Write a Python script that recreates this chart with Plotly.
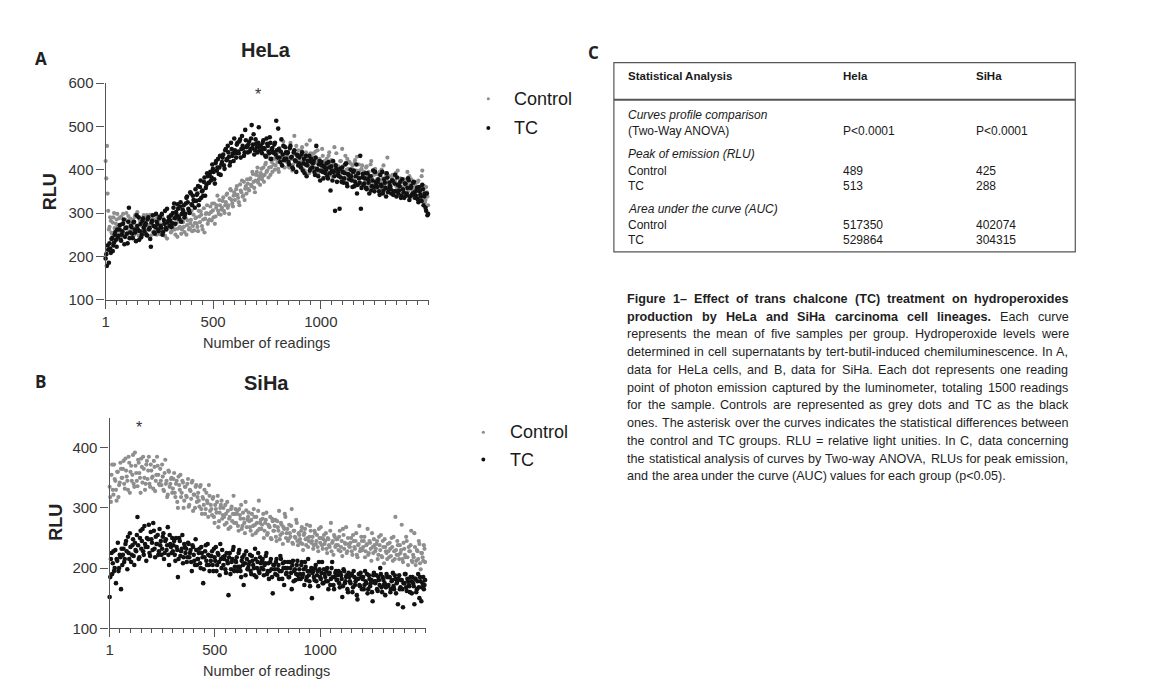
import plotly.graph_objects as go

# ---------------- data ----------------
# reading indices (two interleaved sets of readings)
readings_a = list(range(1, 1501, 6))
readings_b = list(range(4, 1501, 6))

hela_control_a = [
    420, 455, 305, 268, 282, 252, 290, 265, 275, 298,
    270, 258, 292, 246, 281, 266, 300, 255, 278, 287,
    262, 284, 249, 296, 271, 258, 289, 243, 276, 268,
    281, 253, 295, 264, 272, 248, 286, 270, 259, 293,
    266, 282, 251, 274, 290, 260, 247, 279, 268, 285,
    271, 258, 292, 276, 250, 286, 264, 281, 296, 262,
    279, 256, 288, 272, 301, 265, 284, 258, 296, 277,
    290, 268, 305, 279, 296, 262, 311, 287, 300, 275,
    298, 315, 283, 306, 322, 292, 318, 305, 330, 296,
    312, 336, 300, 325, 345, 318, 334, 352, 322, 340,
    330, 355, 342, 325, 366, 348, 338, 372, 356, 345,
    368, 352, 380, 362, 390, 358, 375, 395, 370, 385,
    392, 378, 405, 388, 416, 398, 382, 425, 406, 395,
    412, 400, 430, 418, 395, 442, 420, 408, 455, 426,
    418, 440, 405, 462, 428, 412, 478, 435, 420, 445,
    430, 410, 452, 422, 398, 440, 425, 412, 468, 432,
    415, 438, 402, 425, 445, 395, 420, 408, 432, 410,
    398, 425, 412, 440, 390, 418, 402, 452, 410, 395,
    408, 385, 420, 448, 396, 412, 380, 425, 402, 415,
    390, 410, 375, 422, 398, 385, 412, 370, 402, 388,
    395, 372, 408, 385, 360, 412, 380, 398, 365, 390,
    378, 360, 395, 372, 352, 410, 368, 385, 428, 362,
    370, 355, 388, 348, 375, 362, 398, 352, 380, 340,
    358, 378, 342, 365, 350, 385, 338, 372, 355, 345,
    362, 340, 375, 352, 330, 398, 345, 325, 360, 338,
]
hela_control_b = [
    380, 345, 262, 290, 255, 278, 300, 247, 285, 270,
    288, 262, 275, 298, 252, 284, 268, 293, 258, 276,
    279, 255, 291, 266, 302, 248, 283, 271, 259, 295,
    262, 289, 272, 245, 296, 278, 256, 284, 267, 250,
    288, 270, 256, 295, 262, 281, 274, 241, 292, 266,
    255, 288, 270, 262, 299, 245, 280, 268, 252, 284,
    268, 292, 250, 283, 262, 276, 305, 270, 260, 288,
    276, 258, 292, 304, 270, 285, 255, 298, 318, 282,
    285, 302, 322, 290, 275, 312, 340, 298, 318, 308,
    328, 305, 318, 342, 312, 298, 355, 330, 315, 348,
    342, 362, 335, 318, 352, 375, 340, 330, 362, 378,
    355, 378, 365, 395, 372, 348, 388, 405, 378, 365,
    402, 385, 372, 412, 395, 430, 405, 388, 418, 440,
    425, 410, 438, 402, 450, 415, 428, 465, 405, 435,
    432, 410, 448, 425, 398, 440, 418, 455, 430, 412,
    418, 445, 402, 430, 415, 458, 425, 392, 438, 408,
    428, 405, 442, 415, 390, 425, 412, 448, 400, 420,
    410, 395, 432, 405, 422, 385, 415, 400, 438, 392,
    398, 420, 392, 408, 375, 432, 400, 390, 418, 385,
    402, 378, 415, 392, 430, 382, 398, 365, 410, 395,
    382, 405, 368, 395, 378, 420, 372, 388, 402, 358,
    390, 372, 358, 400, 380, 365, 392, 375, 350, 385,
    362, 382, 345, 372, 392, 355, 368, 340, 378, 360,
    372, 348, 362, 395, 340, 365, 378, 352, 335, 368,
    350, 372, 335, 358, 385, 340, 362, 330, 348, 318,
]

hela_tc_a = [
    195, 178, 215, 230, 208, 242, 225, 250, 238, 262,
    248, 272, 236, 258, 285, 245, 266, 230, 312, 255,
    268, 242, 280, 255, 295, 262, 238, 275, 250, 288,
    258, 276, 248, 290, 265, 222, 282, 270, 252, 298,
    275, 258, 292, 266, 250, 284, 305, 262, 278, 290,
    282, 268, 300, 322, 275, 295, 310, 286, 325, 298,
    305, 290, 322, 338, 310, 300, 345, 318, 330, 312,
    328, 345, 318, 360, 335, 352, 372, 340, 365, 385,
    370, 395, 382, 402, 378, 415, 398, 425, 405, 388,
    418, 435, 402, 448, 425, 440, 410, 462, 432, 420,
    445, 428, 462, 438, 470, 448, 455, 432, 492, 452,
    440, 465, 448, 503, 458, 435, 470, 452, 462, 445,
    455, 438, 468, 448, 430, 460, 442, 475, 425, 450,
    440, 462, 513, 428, 448, 418, 470, 435, 422, 452,
    425, 440, 412, 455, 430, 402, 445, 420, 435, 410,
    428, 405, 440, 415, 392, 432, 410, 420, 398, 425,
    405, 420, 388, 455, 400, 412, 375, 418, 395, 408,
    392, 415, 380, 405, 352, 398, 420, 385, 410, 372,
    395, 310, 382, 405, 370, 392, 415, 362, 388, 378,
    385, 360, 398, 372, 412, 365, 380, 432, 358, 390,
    368, 392, 355, 378, 345, 385, 362, 398, 350, 372,
    360, 378, 342, 365, 395, 352, 370, 338, 382, 355,
    362, 345, 375, 350, 388, 338, 365, 352, 372, 340,
    355, 335, 368, 345, 380, 330, 358, 342, 370, 348,
    340, 358, 325, 350, 338, 365, 318, 345, 305, 295,
]
hela_tc_b = [
    205, 225, 185, 218, 240, 212, 232, 256, 222, 245,
    262, 238, 250, 275, 228, 265, 252, 280, 242, 270,
    252, 278, 262, 235, 270, 290, 258, 244, 282, 266,
    272, 250, 285, 262, 240, 278, 295, 255, 268, 280,
    262, 288, 270, 298, 256, 275, 265, 310, 282, 270,
    295, 276, 312, 288, 302, 320, 292, 315, 280, 308,
    318, 298, 335, 325, 305, 348, 320, 340, 328, 355,
    342, 362, 330, 375, 350, 340, 382, 358, 392, 370,
    388, 375, 412, 395, 368, 420, 405, 390, 432, 412,
    428, 410, 445, 422, 455, 430, 418, 448, 438, 472,
    438, 458, 442, 465, 428, 478, 450, 440, 468, 455,
    458, 442, 472, 450, 482, 445, 460, 440, 498, 455,
    445, 462, 450, 432, 472, 455, 438, 462, 448, 440,
    458, 435, 445, 495, 428, 442, 410, 455, 425, 440,
    438, 418, 450, 428, 405, 440, 422, 395, 432, 415,
    410, 435, 398, 425, 412, 385, 420, 432, 402, 418,
    415, 395, 428, 402, 385, 420, 398, 410, 380, 405,
    400, 385, 418, 392, 408, 375, 395, 305, 402, 388,
    385, 402, 372, 395, 380, 412, 368, 390, 378, 400,
    375, 395, 362, 385, 345, 392, 370, 310, 382, 365,
    380, 358, 392, 370, 385, 352, 375, 360, 395, 365,
    372, 350, 388, 362, 345, 378, 358, 392, 348, 370,
    355, 375, 342, 368, 350, 382, 345, 362, 335, 378,
    348, 368, 340, 358, 375, 338, 362, 345, 372, 335,
    352, 332, 360, 342, 328, 355, 338, 312, 345, 298,
]

siha_control_a = [
    335, 310, 372, 322, 348, 330, 360, 318, 342, 365,
    350, 378, 332, 362, 345, 385, 325, 370, 355, 340,
    392, 358, 336, 375, 350, 382, 342, 365, 330, 372,
    348, 385, 335, 362, 352, 378, 328, 355, 370, 340,
    365, 338, 352, 328, 380, 345, 322, 360, 340, 350,
    332, 358, 318, 345, 300, 338, 355, 325, 342, 312,
    335, 318, 348, 305, 328, 342, 295, 322, 335, 310,
    325, 302, 338, 290, 315, 330, 298, 312, 285, 320,
    305, 288, 318, 275, 298, 310, 268, 292, 305, 282,
    300, 272, 290, 310, 265, 285, 298, 278, 320, 290,
    275, 295, 262, 288, 305, 270, 282, 258, 296, 280,
    292, 268, 280, 255, 298, 272, 285, 262, 312, 275,
    265, 282, 250, 275, 292, 258, 270, 285, 248, 278,
    262, 280, 245, 268, 295, 255, 272, 240, 265, 285,
    258, 245, 272, 252, 298, 240, 262, 250, 275, 238,
    255, 242, 268, 230, 258, 248, 272, 235, 252, 262,
    245, 232, 262, 240, 255, 228, 250, 268, 238, 248,
    240, 258, 225, 248, 235, 275, 242, 222, 252, 238,
    248, 230, 262, 235, 220, 255, 242, 268, 228, 240,
    235, 250, 222, 245, 232, 258, 218, 240, 228, 252,
    230, 245, 218, 238, 265, 225, 242, 212, 235, 248,
    228, 240, 215, 252, 230, 220, 245, 208, 235, 225,
    240, 218, 232, 250, 212, 228, 285, 222, 238, 215,
    225, 272, 210, 232, 218, 245, 205, 228, 238, 212,
    222, 258, 205, 230, 215, 240, 198, 225, 212, 232,
]
siha_control_b = [
    318, 355, 330, 372, 345, 312, 360, 338, 375, 350,
    365, 340, 382, 352, 330, 375, 360, 345, 388, 335,
    370, 345, 380, 358, 325, 368, 385, 350, 340, 378,
    362, 340, 372, 350, 332, 368, 345, 385, 355, 338,
    345, 372, 330, 358, 340, 318, 362, 335, 348, 325,
    348, 325, 340, 310, 352, 330, 318, 345, 300, 335,
    320, 340, 302, 330, 315, 345, 322, 300, 338, 318,
    312, 335, 298, 318, 305, 290, 325, 308, 338, 295,
    298, 315, 285, 305, 292, 320, 278, 300, 312, 288,
    285, 305, 275, 295, 282, 268, 302, 290, 275, 298,
    290, 270, 298, 282, 265, 292, 275, 310, 268, 285,
    278, 262, 290, 270, 285, 258, 275, 295, 265, 280,
    272, 290, 262, 280, 255, 272, 268, 250, 282, 262,
    270, 252, 278, 262, 248, 275, 258, 268, 290, 250,
    265, 248, 258, 270, 242, 262, 252, 280, 245, 258,
    248, 262, 240, 255, 265, 238, 250, 245, 270, 242,
    252, 238, 258, 245, 235, 265, 242, 250, 232, 255,
    245, 232, 250, 238, 262, 228, 245, 255, 235, 248,
    238, 252, 228, 245, 265, 232, 240, 225, 250, 236,
    242, 228, 255, 235, 245, 222, 238, 270, 232, 245,
    235, 252, 228, 240, 222, 245, 232, 258, 225, 238,
    232, 245, 222, 238, 255, 218, 235, 248, 228, 215,
    228, 242, 220, 235, 252, 215, 230, 245, 222, 238,
    230, 215, 242, 222, 252, 218, 235, 228, 262, 210,
    218, 235, 212, 228, 245, 208, 225, 218, 238, 210,
]

siha_tc_a = [
    152, 215, 190, 228, 200, 175, 212, 195, 222, 165,
    205, 232, 215, 245, 198, 225, 258, 210, 238, 220,
    242, 228, 285, 215, 250, 232, 265, 222, 240, 212,
    235, 272, 220, 248, 230, 262, 218, 240, 255, 228,
    238, 222, 252, 215, 245, 230, 268, 205, 240, 225,
    228, 245, 212, 235, 185, 250, 220, 232, 208, 240,
    225, 210, 242, 218, 230, 195, 235, 212, 248, 205,
    215, 232, 200, 225, 175, 218, 238, 205, 222, 195,
    212, 228, 195, 218, 235, 205, 222, 188, 215, 230,
    205, 220, 192, 212, 155, 225, 198, 215, 235, 202,
    210, 195, 225, 202, 185, 218, 172, 208, 228, 198,
    205, 222, 190, 212, 200, 232, 185, 210, 195, 218,
    200, 215, 188, 208, 225, 195, 182, 210, 198, 158,
    205, 190, 215, 198, 182, 220, 195, 208, 172, 200,
    192, 210, 185, 200, 165, 212, 195, 180, 205, 188,
    198, 182, 210, 190, 172, 202, 185, 215, 178, 195,
    150, 195, 180, 205, 188, 170, 198, 182, 210, 175,
    190, 178, 200, 165, 192, 182, 210, 172, 185, 195,
    180, 195, 168, 188, 152, 198, 175, 185, 165, 192,
    178, 188, 160, 195, 172, 182, 148, 190, 170, 185,
    182, 165, 195, 175, 158, 188, 170, 180, 145, 192,
    175, 188, 162, 180, 200, 168, 185, 172, 155, 190,
    170, 185, 160, 178, 192, 165, 182, 175, 140, 188,
    168, 180, 135, 175, 190, 162, 178, 170, 185, 158,
    175, 140, 182, 165, 190, 150, 178, 168, 185, 172,
]
siha_tc_b = [
    185, 225, 208, 195, 230, 215, 242, 200, 218, 232,
    222, 210, 240, 228, 252, 215, 235, 222, 248, 205,
    230, 255, 238, 218, 262, 245, 228, 270, 235, 250,
    248, 225, 260, 242, 275, 232, 252, 240, 222, 265,
    245, 232, 258, 225, 248, 238, 222, 255, 235, 250,
    238, 222, 250, 230, 215, 245, 228, 255, 218, 235,
    232, 218, 240, 225, 210, 238, 222, 205, 230, 215,
    225, 208, 235, 218, 198, 228, 212, 240, 205, 220,
    220, 205, 232, 212, 195, 225, 210, 240, 200, 218,
    215, 198, 225, 208, 218, 190, 210, 230, 195, 212,
    218, 202, 230, 195, 212, 205, 222, 188, 215, 200,
    210, 195, 220, 205, 188, 215, 200, 225, 192, 208,
    212, 198, 205, 220, 190, 208, 195, 215, 185, 205,
    198, 210, 188, 205, 195, 215, 182, 200, 210, 190,
    200, 185, 210, 192, 205, 178, 198, 190, 212, 182,
    190, 205, 185, 198, 210, 180, 195, 188, 170, 200,
    192, 185, 200, 178, 195, 210, 185, 192, 175, 198,
    185, 195, 178, 190, 172, 200, 185, 165, 192, 180,
    188, 175, 192, 182, 170, 195, 178, 188, 160, 185,
    175, 190, 168, 185, 178, 155, 182, 172, 192, 165,
    185, 172, 178, 190, 165, 182, 175, 160, 188, 178,
    178, 165, 185, 172, 190, 160, 180, 175, 168, 185,
    172, 185, 165, 180, 170, 188, 158, 178, 182, 165,
    180, 165, 175, 190, 168, 182, 172, 160, 178, 185,
    170, 182, 160, 178, 168, 185, 145, 175, 165, 180,
]

x_tickvals = [1, 500, 1000]
hela_yticks = [100, 200, 300, 400, 500, 600]
siha_yticks = [100, 200, 300, 400]
series_names = ["Control", "TC"]
asterisk_hela = (708, 573)
asterisk_siha = (141, 434)

table_header = ["Statistical Analysis", "Hela", "SiHa"]
table_rows = [
    ("Curves profile comparison", None, None, True),
    ("(Two-Way ANOVA)", "P<0.0001", "P<0.0001", False),
    ("Peak of emission (RLU)", None, None, True),
    ("Control", "489", "425", False),
    ("TC", "513", "288", False),
    ("Area under the curve (AUC)", None, None, True),
    ("Control", "517350", "402074", False),
    ("TC", "529864", "304315", False),
]

caption_lines = [
    "Figure 1\u2013 Effect of trans chalcone (TC) treatment on hydroperoxides",
    "production by HeLa and SiHa carcinoma cell lineages. Each curve",
    "represents the mean of five samples per group. Hydroperoxide levels were",
    "determined in cell supernatants by tert-butil-induced chemiluminescence. In A,",
    "data for HeLa cells, and B, data for SiHa. Each dot represents one reading",
    "point of photon emission captured by the luminometer, totaling 1500 readings",
    "for the sample. Controls are represented as grey dots and TC as the black",
    "ones. The asterisk over the curves indicates the statistical differences between",
    "the control and TC groups. RLU = relative light unities. In C, data concerning",
    "the statistical analysis of curves by Two-way ANOVA, RLUs for peak emission,",
    "and the area under the curve (AUC) values for each group (p<0.05).",
]
caption_bold_words = [99, 8, 0, 0, 0, 0, 0, 0, 0, 0, 0]

# ---------------- styling ----------------
W, H = 1159, 686
FONT = "Liberation Sans, Arial, sans-serif"
GREY = "#8e8e8e"
BLACK = "#111111"
AXIS = "#555555"
TXT = "#222222"


def px(x):
    return x / W


def py(y):
    return 1 - y / H


REG = {' ': 278, '(': 333, ')': 333, ',': 278, '-': 333, '.': 278, '<': 584, '=': 584,
       '\u2013': 556, ':': 278}
for d in "0123456789":
    REG[d] = 556
REG.update(dict(A=667, B=667, C=722, D=722, E=667, F=611, G=778, H=722, I=278, J=500, K=667,
                L=556, M=833, N=722, O=778, P=667, Q=778, R=722, S=667, T=611, U=722, V=667,
                W=944, X=667, Y=667, Z=611))
REG.update(dict(a=556, b=556, c=500, d=556, e=556, f=278, g=556, h=556, i=222, j=222, k=500,
                l=222, m=833, n=556, o=556, p=556, q=556, r=333, s=500, t=278, u=556, v=500,
                w=722, x=500, y=500, z=500))
BOLD = dict(REG)
BOLD.update({'(': 333, ')': 333, ':': 333})
BOLD.update(dict(A=722, B=722, C=722, D=722, E=667, F=611, G=778, H=722, I=278, L=611, S=667,
                 T=611, U=722))
BOLD.update(dict(a=556, b=611, c=556, d=611, e=556, f=333, g=611, h=611, i=278, j=278, k=556,
                 l=278, m=889, n=611, o=611, p=611, q=611, r=389, s=556, t=333, u=611, v=556,
                 w=778, x=556, y=556, z=500))


def tw(s, bold, size):
    table = BOLD if bold else REG
    return sum(table.get(ch, 556) for ch in s) * size / 1000.0


def esc(s):
    return s.replace("&", "&amp;").replace("<", "&lt;").replace(">", "&gt;")


fig = go.Figure()

panels = [
    ("x", "y", hela_control_a, hela_control_b, hela_tc_a, hela_tc_b),
    ("x2", "y2", siha_control_a, siha_control_b, siha_tc_a, siha_tc_b),
]
for xa, ya, ca, cb, ta, tb in panels:
    fig.add_trace(go.Scatter(x=readings_a[:len(ca)] + readings_b[:len(cb)], y=ca + cb,
                             mode="markers", name=series_names[0], xaxis=xa, yaxis=ya,
                             cliponaxis=False, marker=dict(color=GREY, size=4.2),
                             showlegend=False, hoverinfo="skip"))
    fig.add_trace(go.Scatter(x=readings_a[:len(ta)] + readings_b[:len(tb)], y=ta + tb,
                             mode="markers", name=series_names[1], xaxis=xa, yaxis=ya,
                             cliponaxis=False, marker=dict(color=BLACK, size=4.6),
                             showlegend=False, hoverinfo="skip"))

xcommon = dict(range=[1, 1500], tickvals=x_tickvals, ticktext=[str(v) for v in x_tickvals],
               ticks="outside", ticklen=8, tickwidth=1.3, tickcolor=AXIS,
               showline=True, linecolor=AXIS, linewidth=1.3, showgrid=False, zeroline=False,
               tickfont=dict(family=FONT, size=15, color="#333333"),
               minor=dict(tick0=0, dtick=50, ticks="outside", ticklen=4, tickwidth=1,
                          tickcolor=AXIS, showgrid=False))
ycommon = dict(ticks="outside", ticklen=8, tickwidth=1.3, tickcolor=AXIS,
               showline=True, linecolor=AXIS, linewidth=1.3, showgrid=False, zeroline=False,
               tickfont=dict(family=FONT, size=15, color="#333333"))

fig.update_layout(
    width=W, height=H,
    margin=dict(l=0, r=0, t=0, b=0),
    paper_bgcolor="white", plot_bgcolor="white",
    showlegend=False,
    xaxis=dict(domain=[px(102), px(426)], anchor="y", **xcommon),
    yaxis=dict(domain=[py(298), py(76)], anchor="x", range=[100, 600],
               tickvals=hela_yticks, **ycommon),
    xaxis2=dict(domain=[px(106), px(423)], anchor="y2", **xcommon),
    yaxis2=dict(domain=[py(635), py(419)], anchor="x2", range=[100, 450],
                tickvals=siha_yticks, **ycommon),
)

ann = []
shapes = []


def text(x, y, s, size, bold=False, italic=False, xanchor="left", color=TXT, family=FONT,
         angle=0):
    t = esc(s)
    if bold:
        t = "<b>" + t + "</b>"
    if italic:
        t = "<i>" + t + "</i>"
    ann.append(dict(x=px(x), y=py(y), xref="paper", yref="paper", text=t, showarrow=False,
                    xanchor=xanchor, yanchor="middle", textangle=angle,
                    font=dict(family=family, size=size, color=color)))


text(37, 51, "A", 17, bold=True, xanchor="center", family="Open Sans, sans-serif")
text(37, 382, "B", 17, bold=True, xanchor="center", family="Open Sans, sans-serif")
text(592, 45, "C", 17, bold=True, xanchor="center", family="Open Sans, sans-serif")
text(263, 42, "HeLa", 20, bold=True, xanchor="center")
text(263, 384, "SiHa", 20, bold=True, xanchor="center")
text(47, 187, "RLU", 18, bold=True, xanchor="center", angle=-90)
text(52, 526, "RLU", 18, bold=True, xanchor="center", angle=-90)
text(263, 342, "Number of readings", 14.5, xanchor="center", color="#333333")
text(263, 679, "Number of readings", 14.5, xanchor="center", color="#333333")

for (ax, ay), xr, yr in [(asterisk_hela, "x", "y"), (asterisk_siha, "x2", "y2")]:
    ann.append(dict(x=ax, y=ay, xref=xr, yref=yr, text="*", showarrow=False,
                    font=dict(family=FONT, size=16, color="#333333")))

for (mx, tx, y1, y2) in [(486, 510, 92, 122), (481, 506, 434, 462)]:
    for yy, col, r, name in [(y1, GREY, 1.6, series_names[0]), (y2, BLACK, 2.0, series_names[1])]:
        shapes.append(dict(type="circle", xref="paper", yref="paper",
                           x0=px(mx - r), x1=px(mx + r), y0=py(yy + r), y1=py(yy - r),
                           fillcolor=col, line=dict(width=0)))
        text(tx, yy, name, 18, color="#1a1a1a")

shapes.append(dict(type="rect", xref="paper", yref="paper", x0=px(612), x1=px(1075),
                   y0=py(249), y1=py(55), line=dict(color="#555555", width=1.2)))
shapes.append(dict(type="line", xref="paper", yref="paper", x0=px(612), x1=px(1075),
                   y0=py(93), y1=py(93), line=dict(color="#555555", width=2)))
col_x = [624, 840, 973]
for cx, h in zip(col_x, table_header):
    text(cx, 69, h, 11.5, bold=True, color="#1a1a1a")
row_y = [109, 125, 149, 166, 181, 205, 222, 237]
for yy, (lab, v1, v2, it) in zip(row_y, table_rows):
    text(col_x[0], yy, lab, 12, italic=it, color="#1a1a1a")
    if v1 is not None:
        text(col_x[1], yy, v1, 12, color="#1a1a1a")
    if v2 is not None:
        text(col_x[2], yy, v2, 12, color="#1a1a1a")

CAP_SIZE = 12.6
cap_left, cap_right = 623.5, 1066
cap_y0, cap_dy = 297.3, 18.2
for i, line in enumerate(caption_lines):
    words = line.split(" ")
    nb = caption_bold_words[i]
    flags = [k < nb for k in range(len(words))]
    widths = [tw(w, b, CAP_SIZE) for w, b in zip(words, flags)]
    yy = cap_y0 + i * cap_dy
    last = (i == len(caption_lines) - 1)
    if last or len(words) == 1:
        gap = tw(" ", False, CAP_SIZE)
    else:
        gap = (cap_right - cap_left - sum(widths)) / (len(words) - 1)
    xx = cap_left
    for w, b, wd in zip(words, flags, widths):
        text(xx, yy, w, CAP_SIZE, bold=b, color="#1e1e1e")
        xx += wd + gap

fig.update_layout(annotations=ann, shapes=shapes)
fig.write_html(
    "out.html",
    config={"displayModeBar": False},
    post_script=("document.body.style.margin='0';"
                 "document.body.style.overflow='hidden';"
                 "document.documentElement.style.overflow='hidden';"),
)
